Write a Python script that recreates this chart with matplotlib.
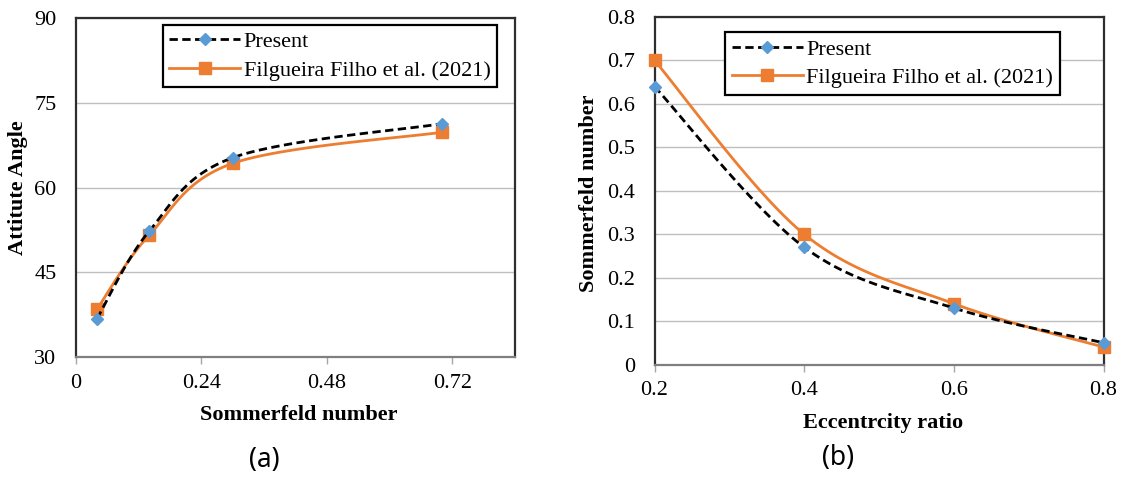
import matplotlib
matplotlib.use("Agg")
import matplotlib.pyplot as plt
import numpy as np

# Panel (a): attitude angle vs Sommerfeld number
somm_present = [0.04, 0.14, 0.30, 0.70]
angle_present = [36.8, 52.3, 65.3, 71.3]
somm_filg = [0.04, 0.14, 0.30, 0.70]
angle_filg = [38.5, 51.6, 64.3, 69.8]

# Panel (b): Sommerfeld number vs eccentricity ratio
ecc = [0.2, 0.4, 0.6, 0.8]
somm_b_present = [0.64, 0.27, 0.13, 0.05]
somm_b_filg = [0.70, 0.30, 0.14, 0.04]

label_present = "Present"
label_filg = "Filgueira Filho et al. (2021)"

BLUE = "#5B9BD5"
ORANGE = "#ED7D31"
W, H = 1123, 479

plt.rcParams["font.family"] = "Liberation Serif"


def smooth(x, y, n=40):
    """Excel-like smoothed line through the points (Catmull-Rom Bezier)"""
    p = np.column_stack([x, y]).astype(float)
    ext = np.vstack([p[0], p, p[-1]])
    t = np.linspace(0, 1, n)[:, None]
    out = []
    for i in range(len(p) - 1):
        p0, p1, p2, p3 = ext[i], ext[i + 1], ext[i + 2], ext[i + 3]
        c1 = p1 + (p2 - p0) / 6
        c2 = p2 - (p3 - p1) / 6
        seg = ((1 - t) ** 3) * p1 + 3 * ((1 - t) ** 2) * t * c1 \
            + 3 * (1 - t) * t ** 2 * c2 + t ** 3 * p2
        out.append(seg if i == 0 else seg[1:])
    out = np.vstack(out)
    return out[:, 0], out[:, 1]


def px(x, y):
    """Figure fraction from reference pixel position"""
    return x / W, 1 - y / H


def draw_panel(ax, xp, yp, xf, yf, leg_xy):
    sx, sy = smooth(xf, yf)
    ax.plot(sx, sy, color=ORANGE, lw=2.0, zorder=3, clip_on=False)
    ax.plot(xf, yf, ls="none", marker="s", ms=8, color=ORANGE, zorder=4,
            clip_on=False)
    sx, sy = smooth(xp, yp)
    ax.plot(sx, sy, color="black", lw=2.0, ls=(0, (3, 1.6)), zorder=5,
            clip_on=False)
    ax.plot(xp, yp, ls="none", marker="D", ms=6, color=BLUE, zorder=6,
            clip_on=False)

    # legend proxies
    ax.plot([], [], color="black", lw=2.0, ls=(0, (3, 1.6)), marker="D",
            ms=6, mfc=BLUE, mec=BLUE, label=label_present)
    ax.plot([], [], color=ORANGE, lw=2.0, marker="s", ms=8, label=label_filg)
    leg = ax.legend(loc="upper left", bbox_to_anchor=px(*leg_xy),
                    bbox_transform=ax.figure.transFigure, fontsize=16,
                    frameon=True, fancybox=False, edgecolor="black",
                    framealpha=1, handlelength=3.2, handletextpad=0.15,
                    borderpad=0.3, labelspacing=0.35, borderaxespad=0)
    leg.get_frame().set_linewidth(1.6)

    ax.grid(axis="y", color="#BFBFBF", lw=1.0)
    ax.set_axisbelow(True)
    for side in ["top", "right", "left"]:
        ax.spines[side].set_color("#2E2E2E")
        ax.spines[side].set_linewidth(1.6)
    ax.spines["bottom"].set_color("#7F7F7F")
    ax.spines["bottom"].set_linewidth(1.6)
    ax.tick_params(axis="x", direction="out", length=5, width=1,
                   color="#A6A6A6", labelsize=16, pad=7)
    ax.tick_params(axis="y", length=0, labelsize=16, pad=14)


fig = plt.figure(figsize=(W / 100, H / 100), dpi=100)

ax1 = fig.add_axes([76 / W, 1 - 357.3 / H, 439 / W, 339.3 / H])
draw_panel(ax1, somm_present, angle_present, somm_filg, angle_filg,
           (162.7, 25))
ax1.set_xlim(0, 0.84)
ax1.set_ylim(30, 90)
ax1.set_xticks([0, 0.24, 0.48, 0.72])
ax1.set_xticklabels(["0", "0.24", "0.48", "0.72"])
ax1.set_yticks([30, 45, 60, 75, 90])
ax1.set_xlabel("Sommerfeld number", fontsize=16, fontweight="bold")
ax1.set_ylabel("Attitute Angle", fontsize=16, fontweight="bold")
ax1.xaxis.set_label_coords(*px(299, 415), transform=fig.transFigure)
ax1.yaxis.set_label_coords(*px(18, 188), transform=fig.transFigure)
ax1.xaxis.label.set_va("center")
ax1.yaxis.label.set_va("center")

ax2 = fig.add_axes([654.5 / W, 1 - 364.5 / H, 449 / W, 347.5 / H])
draw_panel(ax2, ecc, somm_b_present, ecc, somm_b_filg, (725, 32.3))
ax2.set_xlim(0.2, 0.8)
ax2.set_ylim(0, 0.8)
ax2.set_xticks([0.2, 0.4, 0.6, 0.8])
ax2.set_xticklabels(["0.2", "0.4", "0.6", "0.8"])
ax2.set_yticks(np.arange(0, 0.81, 0.1))
ax2.set_yticklabels(["0", "0.1", "0.2", "0.3", "0.4", "0.5", "0.6", "0.7", "0.8"])
ax2.set_xlabel("Eccentrcity ratio", fontsize=16, fontweight="bold")
ax2.set_ylabel("Sommerfeld number", fontsize=16, fontweight="bold")
ax2.xaxis.set_label_coords(*px(883, 423), transform=fig.transFigure)
ax2.yaxis.set_label_coords(*px(589, 193), transform=fig.transFigure)
ax2.xaxis.label.set_va("center")
ax2.yaxis.label.set_va("center")

fig.text(*px(264, 460), "(a)", fontsize=19, family="Noto Sans",
         ha="center", va="center")
fig.text(*px(838, 458), "(b)", fontsize=19, family="Noto Sans",
         ha="center", va="center")

fig.savefig("out.png", dpi=100)
